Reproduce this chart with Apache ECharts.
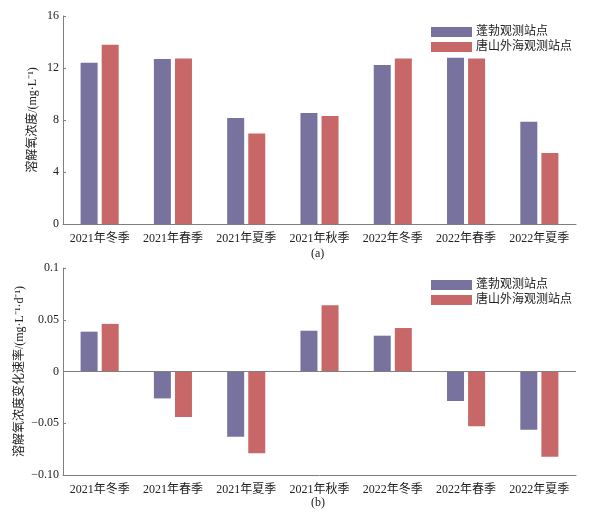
<!DOCTYPE html>
<html>
<head>
<meta charset="utf-8">
<script src="https://cdn.jsdelivr.net/npm/echarts@6/dist/echarts.min.js"></script>
<style>
  html, body { margin: 0; padding: 0; background: #fff; }
  #main { width: 599px; height: 514px; }
</style>
</head>
<body>
<div id="main"></div>
<script>
// 数据
var seasons = ['2021年冬季', '2021年春季', '2021年夏季', '2021年秋季', '2022年冬季', '2022年春季', '2022年夏季'];
var stationNames = ['蓬勃观测站点', '唐山外海观测站点'];

// (a) 溶解氧浓度
var doPengbo = [12.41, 12.69, 8.15, 8.54, 12.23, 12.79, 7.87];
var doTangshan = [13.79, 12.74, 6.97, 8.31, 12.74, 12.74, 5.46];
var ticksA = ['0', '4', '8', '12', '16'];

// (b) 溶解氧浓度变化速率
var ratePengbo = [0.0385, -0.026, -0.063, 0.0394, 0.0346, -0.0285, -0.0564];
var rateTangshan = [0.046, -0.044, -0.079, 0.064, 0.042, -0.053, -0.0824];
var ticksB = ['\u22120.10', '\u22120.05', '0', '0.05', '0.1'];

var FONT = '"Liberation Serif", "Times New Roman", "Noto Sans CJK SC", serif';
var AXIS_COLOR = '#7f7f7f';
var TEXT_COLOR = '#222';
var colors = ['#77729e', '#c86767'];

var myChart = echarts.init(document.getElementById('main'));

function xAxisOpt(gridIndex){
  return {
    type: 'category', gridIndex: gridIndex, data: seasons,
    axisLine: { onZero: false, lineStyle: { color: AXIS_COLOR } },
    axisTick: { inside: true, length: 3, alignWithLabel: true, lineStyle: { color: AXIS_COLOR } },
    axisLabel: { interval: 0, color: TEXT_COLOR, fontSize: 12, fontFamily: FONT, margin: 9 }
  };
}

function yAxisOpt(gridIndex, min, max, interval, ticks, name, nameGap){
  return {
    type: 'value', gridIndex: gridIndex, min: min, max: max, interval: interval,
    name: name, nameLocation: 'middle', nameGap: nameGap, nameMoveOverlap: false,
    nameTextStyle: { color: TEXT_COLOR, fontSize: 12, fontFamily: FONT },
    axisLine: { show: true, lineStyle: { color: AXIS_COLOR } },
    axisTick: { show: true, inside: true, length: 3, lineStyle: { color: AXIS_COLOR } },
    splitLine: { show: false },
    axisLabel: {
      color: TEXT_COLOR, fontSize: 12, fontFamily: FONT, margin: 4,
      formatter: function(v){
        var idx = Math.round((v - min) / interval);
        return ticks[idx] !== undefined ? ticks[idx] : '';
      }
    }
  };
}

function barSeries(name, data, idx, color, extra){
  var s = {
    name: name, type: 'bar', xAxisIndex: idx, yAxisIndex: idx, data: data,
    barWidth: 17, barGap: '24%',
    itemStyle: { color: color }
  };
  return Object.assign(s, extra || {});
}

function legendOpt(top){
  return {
    data: stationNames, orient: 'vertical', left: 431, top: top, padding: 0,
    itemWidth: 41, itemHeight: 10, itemGap: 3, icon: 'rect',
    textStyle: { color: TEXT_COLOR, fontSize: 12, fontFamily: FONT, padding: [0, 0, 0, -1] }
  };
}

var chartOpt = {
  backgroundColor: '#fff',
  animation: false,
  color: colors,
  legend: [legendOpt(26), legendOpt(279)],
  grid: [
    { left: 63, right: 23, top: 16, height: 208 },
    { left: 63, right: 23, top: 268, height: 207 }
  ],
  xAxis: [xAxisOpt(0), xAxisOpt(1)],
  yAxis: [
    yAxisOpt(0, 0, 16, 4, ticksA, '溶解氧浓度/(mg·L\u207B\u00B9)', 24),
    yAxisOpt(1, -0.1, 0.1, 0.05, ticksB, '溶解氧浓度变化速率/(mg·L\u207B\u00B9·d\u207B\u00B9)', 37)
  ],
  series: [
    barSeries(stationNames[0], doPengbo, 0, colors[0]),
    barSeries(stationNames[1], doTangshan, 0, colors[1]),
    barSeries(stationNames[0], ratePengbo, 1, colors[0], {
      markLine: {
        silent: true, symbol: 'none', label: { show: false },
        lineStyle: { color: AXIS_COLOR, type: 'solid', width: 1 },
        data: [{ yAxis: 0 }]
      }
    }),
    barSeries(stationNames[1], rateTangshan, 1, colors[1])
  ],
  graphic: [
    { type: 'text', left: 311, top: 248, style: { text: '(a)', fontSize: 12, fontFamily: FONT, fill: TEXT_COLOR } },
    { type: 'text', left: 311, top: 497, style: { text: '(b)', fontSize: 12, fontFamily: FONT, fill: TEXT_COLOR } }
  ]
};

myChart.setOption(chartOpt);
</script>
</body>
</html>
